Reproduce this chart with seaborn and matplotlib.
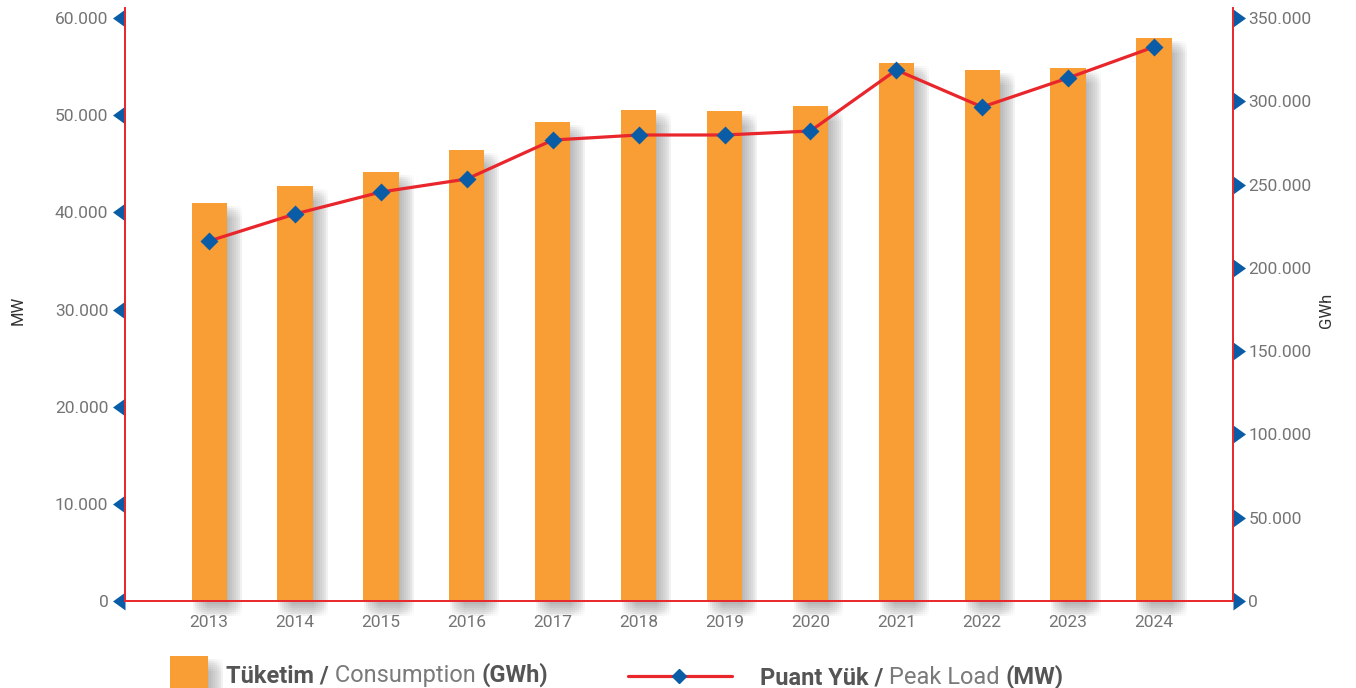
import numpy as np
import pandas as pd
import matplotlib
matplotlib.use("Agg")
import matplotlib.pyplot as plt
from matplotlib.path import Path
from matplotlib.patches import Rectangle
from matplotlib.lines import Line2D
from matplotlib.transforms import ScaledTranslation
from matplotlib.ticker import FuncFormatter
import seaborn as sns

# ---------------- data ----------------
years = ['2013', '2014', '2015', '2016', '2017', '2018',
         '2019', '2020', '2021', '2022', '2023', '2024']
consumption_gwh = [239000, 249100, 257500, 270800, 287600, 294800,
                   294200, 297200, 323000, 318800, 320000, 338000]
peak_load_mw = [37050, 39830, 42090, 43430, 47440, 47960,
                47960, 48370, 54650, 50840, 53830, 57020]
mw_ticks = [0, 10000, 20000, 30000, 40000, 50000, 60000]
gwh_ticks = [0, 50000, 100000, 150000, 200000, 250000, 300000, 350000]

legend_bar = ["Tüketim /", " Consumption ", "(GWh)"]
legend_line = ["Puant Yük /", " Peak Load ", "(MW)"]

# ---------------- style ----------------
sns.set_style("white")
plt.rcParams['font.family'] = ['Roboto', 'DejaVu Sans']

ORANGE = '#f99d35'
RED = '#e8262c'
BLUE = '#0b5ca6'
TICKGRAY = '#747474'

W, H = 1356, 688
fig = plt.figure(figsize=(W / 100, H / 100), dpi=100)
ax = fig.add_axes([125 / W, 87 / H, (1233 - 125) / W, (601 - 8) / H])
ax2 = ax.twinx()

df = pd.DataFrame({'year': years, 'gwh': consumption_gwh, 'mw': peak_load_mw})

# bars (right axis, GWh)
sns.barplot(data=df, x='year', y='gwh', ax=ax2, color=ORANGE, width=0.41,
            saturation=1, linewidth=0, zorder=3)

# soft shadows derived from the bar patches
bars = list(ax2.patches)
for p in bars:
    x0, y0, w, h = p.get_x(), p.get_y(), p.get_width(), p.get_height()
    for dx in range(1, 17, 2):
        for dy in range(3, 16, 2):
            tr = ax2.transData + ScaledTranslation(dx / 100, -dy / 100, fig.dpi_scale_trans)
            r = Rectangle((x0, y0), w, h, transform=tr, facecolor='#8a8a8a',
                          alpha=0.010, lw=0, zorder=1, clip_on=False)
            ax2.add_patch(r)

# line (left axis, MW)
sns.pointplot(data=df, x='year', y='mw', ax=ax, color=RED, markers='',
              linestyles='-', errorbar=None, linewidth=2.3)
sns.pointplot(data=df, x='year', y='mw', ax=ax, color=BLUE, markers='D',
              linestyles='none', errorbar=None, markersize=7.5)

ax.set_zorder(ax2.get_zorder() + 1)
ax.patch.set_visible(False)

# limits
ax.set_ylim(0, 60000 * (601 - 8) / (601 - 18))
ax2.set_ylim(0, 350000 * (601 - 8) / (601 - 18))
ax.set_xlim(-0.98, 11.92)

# spines
ax.spines['top'].set_visible(False)
for s in ['left', 'right', 'bottom']:
    ax.spines[s].set_color(RED)
    ax.spines[s].set_linewidth(1.4)
for s in ax2.spines.values():
    s.set_visible(False)

fmt = FuncFormatter(lambda v, p: f"{int(v):,}".replace(",", "."))

tri_left = Path([(0, 0.72), (-1, 0), (0, -0.72), (0, 0.72)],
                [Path.MOVETO, Path.LINETO, Path.LINETO, Path.CLOSEPOLY])
tri_right = Path([(0, 0.72), (1, 0), (0, -0.72), (0, 0.72)],
                 [Path.MOVETO, Path.LINETO, Path.LINETO, Path.CLOSEPOLY])

ax.set_yticks(mw_ticks)
ax.yaxis.set_major_formatter(fmt)
ax.tick_params(axis='y', length=0, pad=12, labelsize=12.5, labelcolor=TICKGRAY, left=True)
for t in ax.yaxis.get_major_ticks():
    t.tick1line.set_marker(tri_left)
    t.tick1line.set_markersize(18)
    t.tick1line.set_markeredgewidth(0)
    t.tick1line.set_markerfacecolor(BLUE)

ax2.set_yticks(gwh_ticks)
ax2.yaxis.set_major_formatter(fmt)
ax2.tick_params(axis='y', length=0, pad=11, labelsize=12.5, labelcolor=TICKGRAY, right=True)
for t in ax2.yaxis.get_major_ticks():
    t.tick2line.set_marker(tri_right)
    t.tick2line.set_markersize(18)
    t.tick2line.set_markeredgewidth(0)
    t.tick2line.set_markerfacecolor(BLUE)

ax.tick_params(axis='x', length=0, pad=10, labelsize=12.5, labelcolor=TICKGRAY)
ax2.tick_params(axis='x', length=0)
ax.set_xlabel('')
ax2.set_xlabel('')
ax.set_ylabel('')
ax2.set_ylabel('')

fig.text(18 / W, 1 - 310 / H, 'MW', rotation=90, ha='center', va='center',
         fontsize=12, color='#333333')
fig.text(1327 / W, 1 - 310 / H, 'GWh', rotation=90, ha='center', va='center',
         fontsize=12, color='#333333')

# ---------------- legend ----------------
for dx in range(1, 17, 2):
    for dy in range(3, 16, 2):
        fig.patches.append(Rectangle(((170 + dx) / W, 1 - (700 + dy) / H), 38 / W, 44 / H,
                                     transform=fig.transFigure, facecolor='#8a8a8a',
                                     alpha=0.010, lw=0, zorder=1))
fig.patches.append(Rectangle((170 / W, 1 - 700 / H), 38 / W, 44 / H,
                             transform=fig.transFigure, facecolor=ORANGE, lw=0, zorder=2))
fig.lines.append(Line2D([628 / W, 732 / W], [1 - 676 / H, 1 - 676 / H],
                        transform=fig.transFigure, color=RED, lw=2.3))
fig.lines.append(Line2D([679 / W], [1 - 676 / H], transform=fig.transFigure,
                        marker='D', color=BLUE, markersize=7.5, lw=0))

def chained(parts, x, y):
    weights = ['bold', 'normal', 'bold']
    colors = ['#555555', '#7a7a7a', '#555555']
    prev = fig.text(x / W, 1 - y / H, parts[0], fontsize=17, fontweight=weights[0],
                    color=colors[0], ha='left', va='baseline')
    for part, wt, c in zip(parts[1:], weights[1:], colors[1:]):
        prev = ax.annotate(part, xy=(1, 0), xycoords=prev, ha='left', va='bottom',
                           fontsize=17, fontweight=wt, color=c, annotation_clip=False)

chained(legend_bar, 226, 682)
chained(legend_line, 760, 684)

fig.savefig('out.png', dpi=100)
